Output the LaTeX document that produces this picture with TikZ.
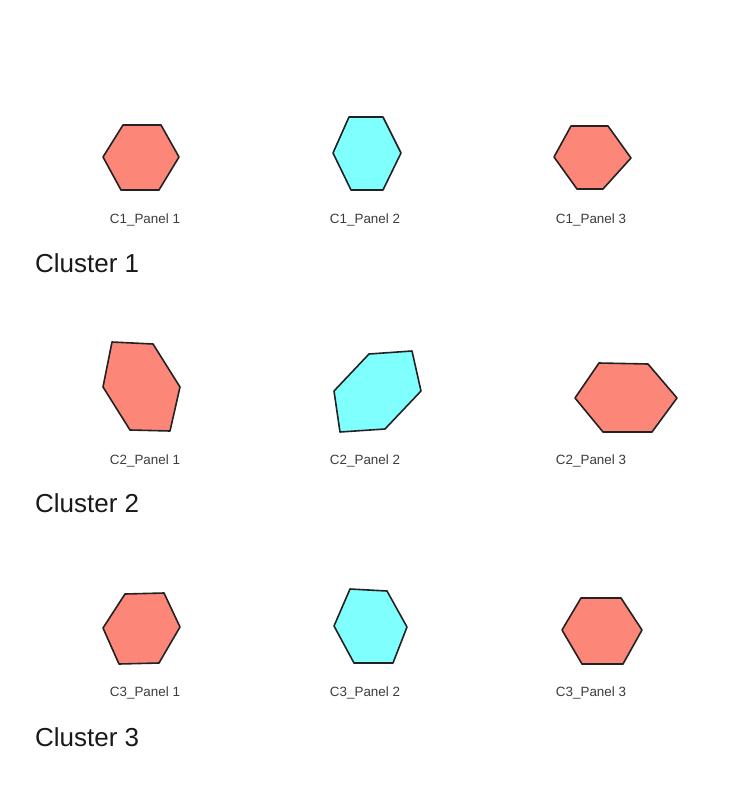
\documentclass[tikz,border=0pt]{standalone}
\usepackage{fontspec}
\setmainfont{Liberation Sans}
\definecolor{panelred}{RGB}{252,134,120}
\definecolor{panelcyan}{RGB}{128,255,255}
\definecolor{edgegray}{RGB}{34,34,34}
\definecolor{labelgray}{RGB}{60,60,60}

\begin{document}
\begin{tikzpicture}[
      x=1pt, y=-1pt,
      hexred/.style={draw=edgegray, fill=panelred, line width=1.6pt, line join=round},
      hexcyan/.style={draw=edgegray, fill=panelcyan, line width=1.6pt, line join=round},
      panellabel/.style={anchor=base, inner sep=0pt, text=labelgray, font=\fontsize{13.4}{16}\selectfont},
      clusterlabel/.style={anchor=base west, inner sep=0pt, text=black!90, font=\fontsize{26}{31}\selectfont},
    ]
      \useasboundingbox (0,0) rectangle (730,806);

      % cluster 1
      \draw[hexred]  (123,125) -- (161,125) -- (179,157) -- (159,190) -- (121,190) -- (103,157) -- cycle;
      \draw[hexcyan] (349,117) -- (383,117) -- (401,153) -- (383,190) -- (351,190) -- (333,153) -- cycle;
      \draw[hexred]  (571,126) -- (608,126) -- (631,158) -- (603,189) -- (577,189) -- (554,157) -- cycle;
      \node[panellabel] (c1p1) at (145,223) {C1\_Panel 1};
      \node[panellabel] (c1p2) at (365,223) {C1\_Panel 2};
      \node[panellabel] (c1p3) at (591,223) {C1\_Panel 3};
      \node[clusterlabel] (cluster1) at (35,272) {Cluster 1};

      % cluster 2
      \draw[hexred]  (112,342) -- (153,344) -- (180,387) -- (170,431) -- (130,430) -- (103,387) -- cycle;
      \draw[hexcyan] (369,354) -- (412,351) -- (421,391) -- (385,429) -- (340,432) -- (334,391) -- cycle;
      \draw[hexred]  (599,363) -- (648,364) -- (677,398) -- (652,432) -- (603,432) -- (575,398) -- cycle;
      \node[panellabel] (c2p1) at (145,464) {C2\_Panel 1};
      \node[panellabel] (c2p2) at (365,464) {C2\_Panel 2};
      \node[panellabel] (c2p3) at (591,464) {C2\_Panel 3};
      \node[clusterlabel] (cluster2) at (35,512) {Cluster 2};

      % cluster 3
      \draw[hexred]  (125,594) -- (164,593) -- (180,627) -- (159,663) -- (119,664) -- (103,628) -- cycle;
      \draw[hexcyan] (350,589) -- (387,591) -- (407,627) -- (393,663) -- (354,663) -- (334,626) -- cycle;
      \draw[hexred]  (581,598) -- (621,598) -- (642,630) -- (623,664) -- (582,664) -- (562,630) -- cycle;
      \node[panellabel] (c3p1) at (145,696) {C3\_Panel 1};
      \node[panellabel] (c3p2) at (365,696) {C3\_Panel 2};
      \node[panellabel] (c3p3) at (591,696) {C3\_Panel 3};
      \node[clusterlabel] (cluster3) at (35,746) {Cluster 3};
    \end{tikzpicture}
\end{document}
